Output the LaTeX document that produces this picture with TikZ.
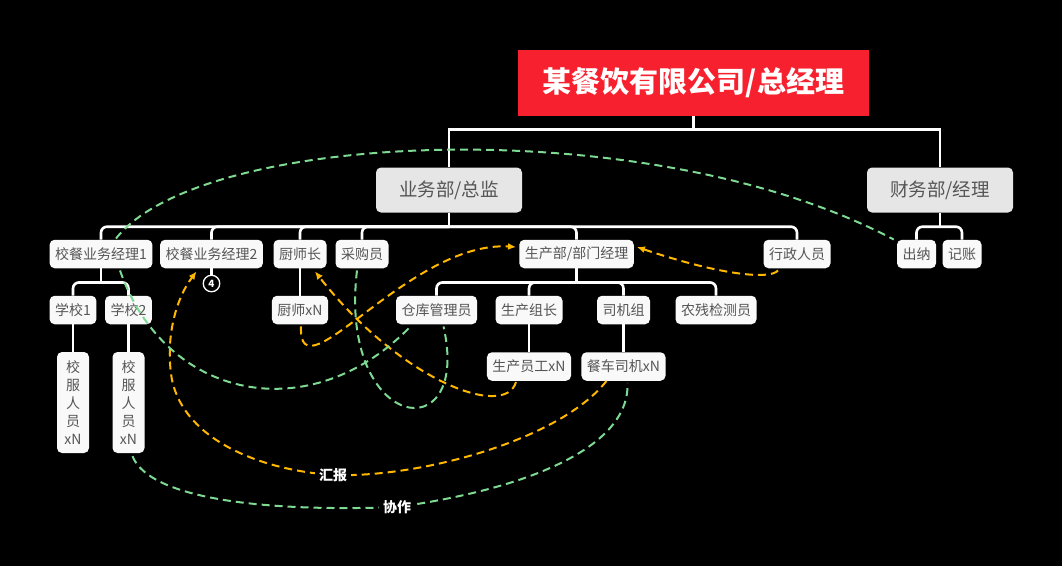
\documentclass[tikz,border=0pt]{standalone}
\usepackage{fontspec}
\newfontfamily\cjk{Noto Sans CJK SC}
\usetikzlibrary{arrows.meta}

\definecolor{topred}{RGB}{247,32,47}
\definecolor{boxgray}{RGB}{230,230,230}
\definecolor{boxwhite}{RGB}{249,249,249}
\definecolor{boxtext}{RGB}{85,85,85}
\definecolor{report}{RGB}{255,184,0}
\definecolor{coop}{RGB}{126,217,146}

\tikzset{
  dept/.style={fill=boxgray, rounded corners=5pt, text=boxtext, font=\cjk\fontsize{18.5}{20}\selectfont, minimum width=146pt, minimum height=45pt, inner sep=0pt},
  staff/.style={fill=boxwhite, rounded corners=5pt, text=boxtext, font=\cjk\fontsize{14}{16}\selectfont, minimum height=28.5pt, inner xsep=5.5pt, inner ysep=0pt},
  tall/.style={staff, align=center, minimum width=32pt, minimum height=101pt, inner xsep=0pt, font=\cjk\fontsize{14}{18}\selectfont},
  toplink/.style={white, line width=2.8pt},
  link/.style={white, line width=2.6pt, rounded corners=6pt},
  reportline/.style={report, line width=2pt, dash pattern=on 8pt off 5pt, -{Latex[length=8pt,width=7pt]}},
  coopline/.style={coop, line width=2pt, dash pattern=on 8pt off 5pt},
  tag/.style={fill=black, text=white, font=\cjk\bfseries\fontsize{14}{16}\selectfont, inner sep=4pt}
}

\begin{document}
\begin{tikzpicture}[x=1pt,y=-1pt]
        % Background
        \fill[black] (0,0) rectangle (1062,566);
        \useasboundingbox (0,0) rectangle (1062,566);

        % Company
        \node[fill=topred, minimum width=351pt, minimum height=66pt, text=white, font=\cjk\bfseries\fontsize{29}{32}\selectfont] (root) at (693.5,83) {某餐饮有限公司/总经理};

        % Departments
        \node[dept] (ywb) at (449,190) {业务部/总监};
        \node[dept] (cwb) at (940,190) {财务部/经理};

        % Second row
        \node[staff] (jl1) at (101,254) {校餐业务经理1};
        \node[staff] (jl2) at (211.5,254) {校餐业务经理2};
        \node[staff] (csz) at (300,254) {厨师长};
        \node[staff] (cgy) at (362,254) {采购员};
        \node[staff] (scb) at (576.5,254) {生产部/部门经理};
        \node[staff] (xzry) at (797,254) {行政人员};
        \node[staff] (cn) at (916.5,254) {出纳};
        \node[staff] (jz) at (962,254) {记账};

        % Third row
        \node[staff] (xx1) at (73,310) {学校1};
        \node[staff] (xx2) at (128.5,310) {学校2};
        \node[staff] (cs) at (300,310) {厨师xN};
        \node[staff] (ck) at (436.5,310) {仓库管理员};
        \node[staff] (sczz) at (529,310) {生产组长};
        \node[staff] (sjz) at (623.5,310) {司机组};
        \node[staff] (nc) at (716,310) {农残检测员};

        % Bottom row
        \node[tall] (sf1) at (73,402.5) {校\\服\\人\\员\\xN};
        \node[tall] (sf2) at (128.5,402.5) {校\\服\\人\\员\\xN};
        \node[staff] (scyg) at (529,366.5) {生产员工xN};
        \node[staff] (ccsj) at (623.5,366.5) {餐车司机xN};

        % Badge
        \node[circle, draw=white, fill=black, line width=1.3pt, minimum size=16.5pt, inner sep=0pt, text=white, font=\cjk\bfseries\fontsize{10}{11}\selectfont] (badge) at (211.5,283.5) {4};

        % Tree
        \draw[toplink] (root.south) -- ++(0,13) coordinate (b0);
        \draw[toplink] (b0) -| (ywb.north);
        \draw[toplink] (b0) -| (cwb.north);
        \draw[link] (ywb.south) -- ++(0,14) coordinate (b1);
        \foreach \kid in {jl1,jl2,csz,cgy,scb,xzry}
          \draw[link] (b1) -| (\kid.north);
        \draw[link] (cwb.south) -- ++(0,14) coordinate (b2);
        \foreach \kid in {cn,jz}
          \draw[link] (b2) -| (\kid.north);
        \draw[link] (jl1.south) -- ++(0,14) coordinate (b3);
        \foreach \kid in {xx1,xx2}
          \draw[link] (b3) -| (\kid.north);
        \draw[link] (scb.south) -- ++(0,14) coordinate (b4);
        \foreach \kid in {ck,sczz,sjz,nc}
          \draw[link] (b4) -| (\kid.north);
        \draw[link] (xx1.south) -- (sf1.north);
        \draw[link] (xx2.south) -- (sf2.north);
        \draw[link] (csz.south) -- (cs.north);
        \draw[link] (sczz.south) -- (scyg.north);
        \draw[link] (sjz.south) -- (ccsj.north);
        \draw[white, line width=2.4pt] (jl2.south) -- (badge.north);

        % Reporting lines
        \draw[reportline] ([xshift=-17pt]ccsj.south) .. controls (560,440) and (420,478) .. (333,475) node[tag] (hb) {汇报}
          .. controls (260,470) and (185,440) .. (172,380) .. controls (165,340) and (175,300) .. ([xshift=-15pt,yshift=-3pt]jl2.south);
        \draw[reportline] ([xshift=-19pt,yshift=-2pt]xzry.south) .. controls (770,280) and (720,275) .. ([xshift=3pt,yshift=7pt]scb.east);
        \draw[reportline] ([xshift=1pt,yshift=-2pt]cs.south) .. controls (298,400) and (410,240) .. ([xshift=-3pt,yshift=7pt]scb.west);
        \draw[reportline] ([xshift=-13pt,yshift=-1pt]scyg.south) .. controls (505,420) and (400,380) .. ([xshift=15pt,yshift=-3pt]csz.south);

        % Cooperation lines
        \draw[coopline] ([xshift=4pt,yshift=-3pt]sf2.south) .. controls (150,500) and (270,512) .. (397,507) node[tag] (xz) {协作}
          .. controls (520,490) and (630,450) .. ([xshift=4pt,yshift=-2pt]ccsj.south);
        \draw[coopline] ([xshift=15pt,yshift=1pt]jl1.north) .. controls (200,130) and (650,110) .. ([xshift=-3pt]cn.north west);
        \draw[coopline] ([xshift=19pt,yshift=-2pt]jl1.south) .. controls (165,400) and (310,430) .. ([xshift=-26pt,yshift=-2pt]ck.south);
        \draw[coopline] ([xshift=-5pt,yshift=-2pt]cgy.south) .. controls (338,432) and (472,452) .. ([xshift=7pt,yshift=-2pt]ck.south);
\end{tikzpicture}
\end{document}
